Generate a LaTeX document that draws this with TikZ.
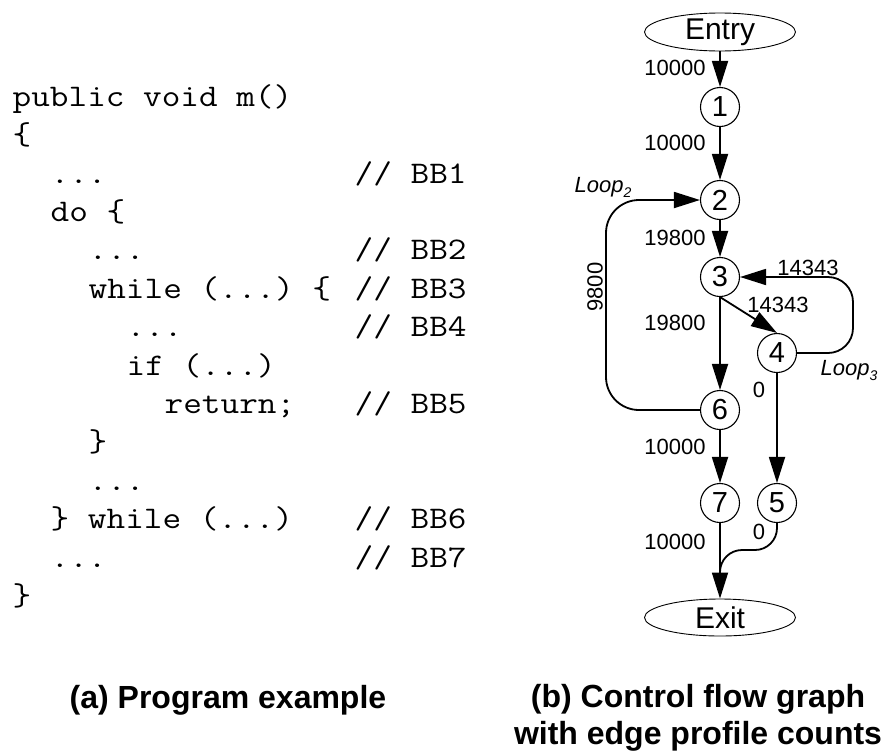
\documentclass[tikz,border=0pt]{standalone}
\usepackage{fontspec}
\setmainfont{Liberation Sans}
\setmonofont[FakeStretch=1.15]{Latin Modern Mono}
\usetikzlibrary{arrows.meta,shapes.geometric}

\tikzset{
  code/.style={anchor=base west, inner sep=0pt, font=\ttfamily\fontsize{31.47}{38}\selectfont},
  bb/.style={circle, draw, line width=1.1pt, minimum size=39pt, inner sep=0pt, font=\fontsize{29}{29}\selectfont},
  term/.style={ellipse, draw, line width=0.9pt, minimum width=151pt, minimum height=37pt, inner sep=0pt, font=\fontsize{30}{30}\selectfont},
  edge/.style={line width=1.8pt, -{Triangle[length=26pt,width=16pt]}},
  plain/.style={line width=1.8pt},
  cnt/.style={inner sep=0pt, font=\fontsize{22}{22}\selectfont},
  looplbl/.style={inner sep=0pt, font=\itshape\fontsize{22}{22}\selectfont},
  caption/.style={inner sep=0pt, align=center, font=\bfseries\fontsize{32}{37}\selectfont}
}
\newcommand{\lsub}[1]{\raisebox{-5pt}{\fontsize{14}{14}\selectfont #1}}

\begin{document}
\begin{tikzpicture}[x=1pt, y=-1pt]
\useasboundingbox (0,0) rectangle (882,755);

% ---- (a) source code, one column = 19pt ----
\def\cx#1{\fpeval{12.5+19*#1}}
\node[code] (l0)  at (\cx{0},106.2) {public void m()};
\node[code] (l1)  at (\cx{0},144.6) {\{};
\node[code] (l2)  at (\cx{2},183.0) {...};
\node[code] (l3)  at (\cx{2},221.4) {do \{};
\node[code] (l4)  at (\cx{4},259.8) {...};
\node[code] (l5)  at (\cx{4},298.2) {while (...) \{};
\node[code] (l6)  at (\cx{6},336.6) {...};
\node[code] (l7)  at (\cx{6},375.0) {if (...)};
\node[code] (l8)  at (\cx{8},413.4) {return;};
\node[code] (l9)  at (\cx{4},451.8) {\}};
\node[code] (l10) at (\cx{4},490.2) {...};
\node[code] (l11) at (\cx{2},528.6) {\} while (...)};
\node[code] (l12) at (\cx{2},567.0) {...};
\node[code] (l13) at (\cx{0},605.4) {\}};
% comments
\node[code] (c1) at (\cx{18},183.0) {// BB1};
\node[code] (c2) at (\cx{18},259.8) {// BB2};
\node[code] (c3) at (\cx{18},298.2) {// BB3};
\node[code] (c4) at (\cx{18},336.6) {// BB4};
\node[code] (c5) at (\cx{18},413.4) {// BB5};
\node[code] (c6) at (\cx{18},528.6) {// BB6};
\node[code] (c7) at (\cx{18},567.0) {// BB7};

% ---- (b) control flow graph ----
\node[term] (entry) at (720,32) {Entry};
\node[bb] (n1) at (720,107) {1};
\node[bb] (n2) at (720,200) {2};
\node[bb] (n3) at (720,277) {3};
\node[bb] (n4) at (777,353) {4};
\node[bb] (n6) at (720,410) {6};
\node[bb] (n7) at (720,503) {7};
\node[bb] (n5) at (777,503) {5};
\node[term] (exit) at (720,617.5) {Exit};

\coordinate (loopl) at (606,0);
\coordinate (loopr) at (853,0);
\coordinate (j5) at (720,550);
\coordinate (jend) at (720,590);

\draw[edge] (entry) -- (n1);
\draw[edge] (n1) -- (n2);
\draw[edge] (n2) -- (n3);
\draw[edge] (n3) -- (n6);
\draw[edge] (n3.south) -- (n4.north);
\draw[edge] (n4) -- (n5);
\draw[edge] (n6) -- (n7);
\draw[edge] (n7) -- (exit);
\draw[edge, rounded corners=33pt] (n6.west) -- (n6.west -| loopl) -- (n2.west -| loopl) -- (n2.west);
\draw[edge, rounded corners=25pt] (n4.east) -- (n4.east -| loopr) -- (n3.east -| loopr) -- (n3.east);
\draw[plain, rounded corners=22pt] (n5.south) |- (j5) -- (jend);

% edge counts
\node[cnt] (k1) at (675,68) {10000};
\node[cnt] (k2) at (675,143) {10000};
\node[cnt] (k3) at (675,238) {19800};
\node[cnt] (k4) at (675,323) {19800};
\node[cnt] (k5) at (778,305) {14343};
\node[cnt, anchor=south] (k6) at (808,276) {14343};
\node[cnt, rotate=90] (k7) at (595,287) {9800};
\node[cnt] (k8) at (759,390) {0};
\node[cnt] (k9) at (675,447) {10000};
\node[cnt] (k10) at (675,542) {10000};
\node[cnt] (k11) at (759,532) {0};

\node[looplbl] (lp2) at (603,187) {Loop\lsub{2}};
\node[looplbl] (lp3) at (849,370) {Loop\lsub{3}};

% captions
\node[caption] (capa) at (228,700) {(a) Program example};
\node[caption] (capb) at (698,718) {(b) Control flow graph\\with edge profile counts};
\end{tikzpicture}
\end{document}
